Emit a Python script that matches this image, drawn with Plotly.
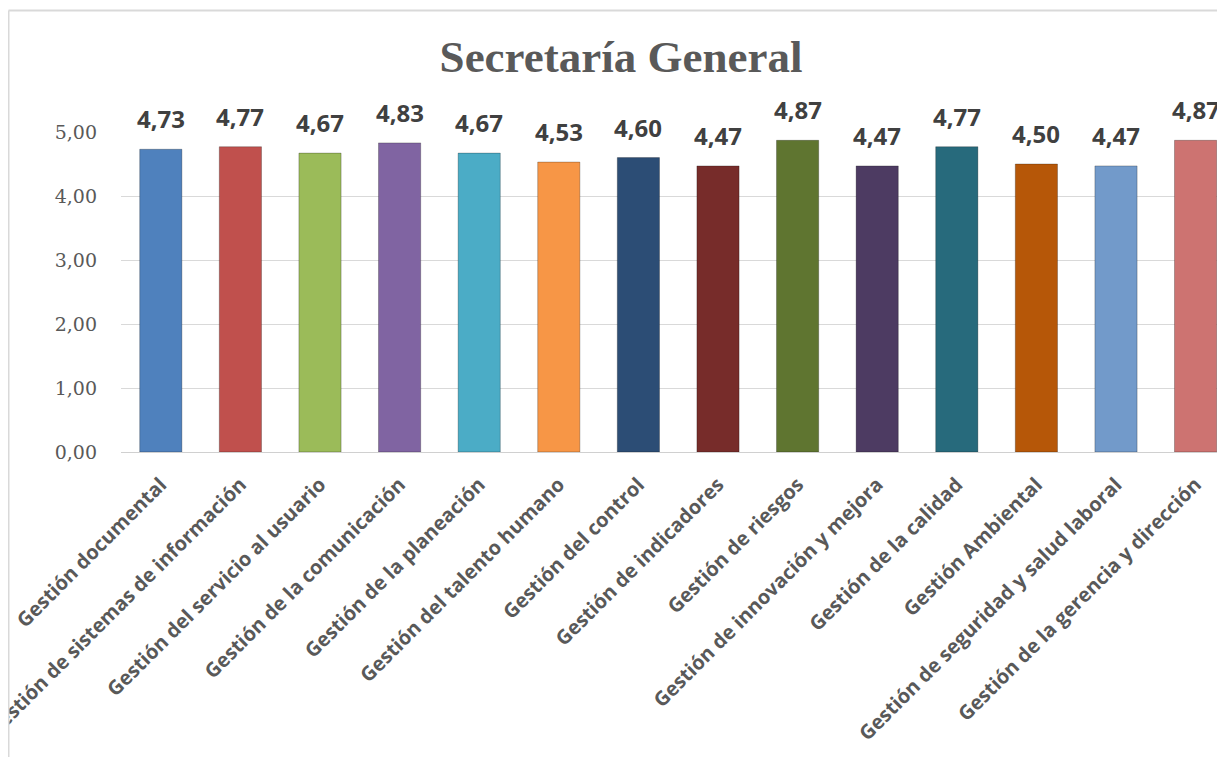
import plotly.graph_objects as go

categories = [
    "Gestión documental",
    "Gestión de sistemas de información",
    "Gestión del servicio al usuario",
    "Gestión de la comunicación",
    "Gestión de la planeación",
    "Gestión del talento humano",
    "Gestión del control",
    "Gestión de indicadores",
    "Gestión de riesgos",
    "Gestión de innovación y mejora",
    "Gestión de la calidad",
    "Gestión Ambiental",
    "Gestión de seguridad y salud laboral",
    "Gestión de la gerencia y dirección",
]
values = [4.73, 4.77, 4.67, 4.83, 4.67, 4.53, 4.60, 4.47, 4.87, 4.47, 4.77, 4.50, 4.47, 4.87]
bar_colors = [
    "#4F81BD", "#C0504D", "#9BBB59", "#8064A2", "#4BACC6", "#F79646",
    "#2C4D75", "#772C2A", "#5F7530", "#4D3B62", "#276A7C", "#B65708",
    "#729ACA", "#CD7371",
]
y_tick_vals = [0, 1, 2, 3, 4, 5]
y_tick_text = ["0,00", "1,00", "2,00", "3,00", "4,00", "5,00"]
title_text = "Secretaría General"

# page body has an 8px default margin: figure px = screen px - 8
OFF = 8
W, H = 1225, 757
L = 121 - OFF
R = W - (1225 - OFF)
T = 132 - OFF
B = H - (452 - OFF)
pw, ph = W - L - R, H - T - B

labels = [f"{v:.2f}".replace(".", ",") for v in values]
xs = list(range(len(categories)))

fig = go.Figure()
fig.add_trace(go.Bar(
    x=xs,
    y=values,
    width=0.53,
    marker=dict(color=bar_colors, line=dict(color="rgba(0,0,0,0.25)", width=1)),
    hoverinfo="skip",
))

annotations = [
    dict(x=x, y=v, xref="x", yref="y", text=t, showarrow=False,
         yanchor="bottom", xanchor="center", yshift=12,
         font=dict(family="Open Sans", size=24, color="#404040", weight="bold"))
    for x, v, t in zip(xs, values, labels)
]

def px_x(x):
    return (x - L) / pw

def px_y(y):
    return (H - B - y) / ph

fig.update_layout(
    width=W, height=H,
    autosize=False,
    margin=dict(l=L, r=R, t=T, b=B, autoexpand=False),
    paper_bgcolor="white",
    plot_bgcolor="white",
    showlegend=False,
    title=dict(
        text=title_text,
        x=(621 - OFF) / W, xanchor="center",
        y=1 - (56 - OFF) / H, yanchor="middle", yref="container",
        font=dict(family="Liberation Serif", size=45, color="#595959", weight="bold"),
    ),
    xaxis=dict(
        tickmode="array",
        tickvals=xs,
        ticktext=categories,
        tickangle=-45,
        range=[-0.5, -0.5 + pw / 79.6],
        showgrid=False,
        showline=True,
        linecolor="#d0d0d0",
        linewidth=1,
        ticks="",
        ticklabeloverflow="allow",
        ticklabelstandoff=12,
        tickfont=dict(family="Open Sans", size=20, color="#595959", weight="bold"),
        automargin=False,
    ),
    yaxis=dict(
        range=[0, 5],
        tickmode="array",
        tickvals=y_tick_vals,
        ticktext=y_tick_text,
        showgrid=True,
        gridcolor="#d9d9d9",
        gridwidth=1,
        zeroline=False,
        showline=False,
        ticks="",
        ticklabelstandoff=23,
        tickfont=dict(family="DejaVu Serif", size=19, color="#595959"),
        automargin=False,
    ),
    annotations=annotations,
    shapes=[
        dict(type="line", xref="paper", yref="paper",
             x0=px_x(0.5), x1=px_x(1300), y0=px_y(2.5), y1=px_y(2.5),
             line=dict(color="#d9d9d9", width=2)),
        dict(type="line", xref="paper", yref="paper",
             x0=px_x(0.5), x1=px_x(0.5), y0=px_y(2.5), y1=px_y(800),
             line=dict(color="#d9d9d9", width=2)),
    ],
)

fig.write_html("out.html")
